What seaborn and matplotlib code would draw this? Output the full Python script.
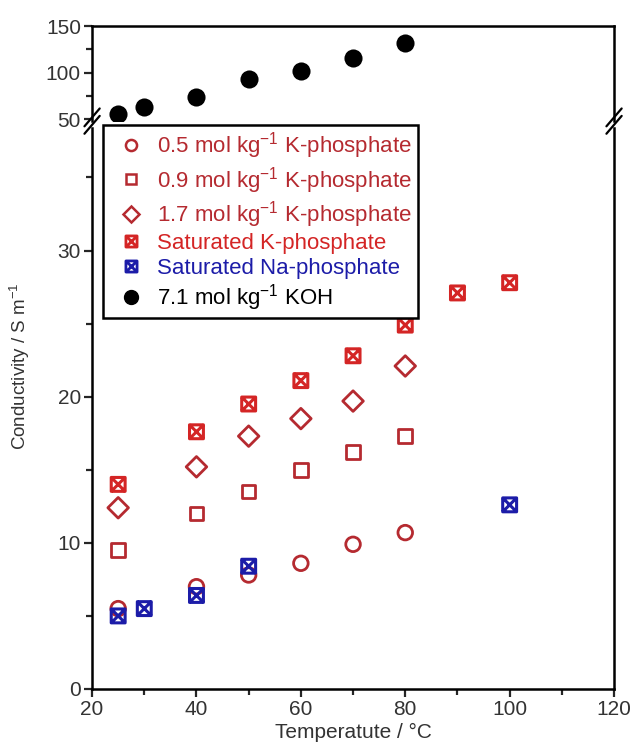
import numpy as np
import pandas as pd
import seaborn as sns
import matplotlib
matplotlib.use("Agg")
import matplotlib.pyplot as plt
from matplotlib.path import Path
from matplotlib.lines import Line2D
from matplotlib.ticker import MultipleLocator

# ---- data ----
t_k05 = [25, 40, 50, 60, 70, 80]
c_k05 = [5.5, 7.0, 7.8, 8.6, 9.9, 10.7]
t_k09 = [25, 40, 50, 60, 70, 80]
c_k09 = [9.5, 12.0, 13.5, 15.0, 16.2, 17.3]
t_k17 = [25, 40, 50, 60, 70, 80]
c_k17 = [12.4, 15.2, 17.3, 18.5, 19.7, 22.1]
t_ksat = [25, 40, 50, 60, 70, 80, 90, 100]
c_ksat = [14.0, 17.6, 19.5, 21.1, 22.8, 24.9, 27.1, 27.8]
t_nasat = [25, 30, 40, 50, 100]
c_nasat = [5.0, 5.5, 6.4, 8.4, 12.6]
t_koh = [25, 30, 40, 50, 60, 70, 80]
c_koh = [56, 63, 74, 93, 102, 116, 132]

labels = ["0.5 mol kg$^{-1}$ K-phosphate",
          "0.9 mol kg$^{-1}$ K-phosphate",
          "1.7 mol kg$^{-1}$ K-phosphate",
          "Saturated K-phosphate",
          "Saturated Na-phosphate",
          "7.1 mol kg$^{-1}$ KOH"]

sns.set_style("ticks")
plt.rcParams['font.family'] = ['Liberation Sans', 'DejaVu Sans']
plt.rcParams['mathtext.fontset'] = 'custom'
plt.rcParams['mathtext.rm'] = 'Liberation Sans'
plt.rcParams['mathtext.it'] = 'Liberation Sans'

RED = "#b52a30"
RED2 = "#d42525"
BLUE = "#1c1ca8"
TXT = "#333333"

# crossed square marker
verts = [(-1, -1), (1, -1), (1, 1), (-1, 1), (-1, -1),
         (-1, -1), (1, 1), (-1, 1), (1, -1)]
codes = [Path.MOVETO, Path.LINETO, Path.LINETO, Path.LINETO, Path.CLOSEPOLY,
         Path.MOVETO, Path.LINETO, Path.MOVETO, Path.LINETO]
xsq = Path(verts, codes)

fig = plt.figure(figsize=(6.35, 7.43), dpi=100)
axt = fig.add_axes([0.145, 0.837, 0.822, 0.128])
axb = fig.add_axes([0.145, 0.0727, 0.822, 0.7553])

FS = 15

# top panel
sns.scatterplot(x=t_koh, y=c_koh, ax=axt, color="black", marker="o", s=170,
                edgecolor="black", linewidth=0)
axt.set_ylim(48, 150)
axt.set_xlim(20, 120)
axt.set_yticks([50, 100, 150])
axt.yaxis.set_minor_locator(MultipleLocator(25))
axt.tick_params(axis='x', which='both', bottom=False, labelbottom=False)
axt.spines['bottom'].set_visible(False)

# bottom panel
sns.scatterplot(x=t_k05, y=c_k05, ax=axb, marker="o", s=110, facecolor="none",
                edgecolor=RED, linewidth=2.0)
sns.scatterplot(x=t_k09, y=c_k09, ax=axb, marker="s", s=95, facecolor="none",
                edgecolor=RED, linewidth=2.0)
sns.scatterplot(x=t_k17, y=c_k17, ax=axb, marker="D", s=110, facecolor="none",
                edgecolor=RED, linewidth=2.0)
sns.scatterplot(x=t_ksat, y=c_ksat, ax=axb, marker=xsq, s=100, facecolor="none",
                edgecolor=RED2, linewidth=2.2)
sns.scatterplot(x=t_nasat, y=c_nasat, ax=axb, marker=xsq, s=100, facecolor="none",
                edgecolor=BLUE, linewidth=2.2)
axb.set_xlim(20, 120)
axb.set_ylim(0, 38.4)
axb.set_xticks([20, 40, 60, 80, 100, 120])
axb.xaxis.set_minor_locator(MultipleLocator(10))
axb.set_yticks([0, 10, 20, 30])
axb.yaxis.set_minor_locator(MultipleLocator(5))
axb.spines['top'].set_visible(False)

for ax in (axt, axb):
    for sp in ax.spines.values():
        sp.set_linewidth(1.8)
        sp.set_color("black")
    ax.tick_params(which='major', length=6, width=1.6, labelsize=FS, direction='out',
                   labelcolor=TXT, pad=2)
    ax.tick_params(which='minor', length=4, width=1.6, direction='out')
    ax.tick_params(axis='y', right=False, which='both')
    ax.set_xlabel("")
    ax.set_ylabel("")

fig.text(0.556, 0.014, "Temperatute / °C", fontsize=FS, color=TXT,
         ha='center', va='center')
fig.text(0.031, 0.507, "Conductivity / S m$^{-1}$", rotation=90, fontsize=13.5,
         color=TXT, ha='center', va='center')

# break marks
for x0 in (0.145, 0.967):
    for yy in (0.842, 0.832):
        fig.add_artist(Line2D([x0 - 0.012, x0 + 0.012], [yy - 0.012, yy + 0.012],
                              color="black", lw=1.6, transform=fig.transFigure))

# legend
handles = [
    Line2D([], [], ls='none', marker='o', ms=8, mfc='none', mec=RED, mew=1.8),
    Line2D([], [], ls='none', marker='s', ms=7.5, mfc='none', mec=RED, mew=1.8),
    Line2D([], [], ls='none', marker='D', ms=8.5, mfc='none', mec=RED, mew=1.8),
    Line2D([], [], ls='none', marker=xsq, ms=8, mfc='none', mec=RED2, mew=2.0),
    Line2D([], [], ls='none', marker=xsq, ms=8, mfc='none', mec=BLUE, mew=2.0),
    Line2D([], [], ls='none', marker='o', ms=10, mfc='black', mec='black'),
]
leg = axb.legend(handles, labels, loc='upper left', bbox_to_anchor=(0.02, 1.005),
                 fontsize=16, frameon=True, fancybox=False, edgecolor='black',
                 framealpha=1, labelspacing=0.15, handletextpad=0.12,
                 handlelength=2.1, borderpad=0.25, borderaxespad=0)
leg.get_frame().set_linewidth(1.8)
tcols = [RED, RED, RED, RED2, BLUE, "black"]
for txt, c in zip(leg.get_texts(), tcols):
    txt.set_color(c)

fig.savefig("out.png", dpi=100)
